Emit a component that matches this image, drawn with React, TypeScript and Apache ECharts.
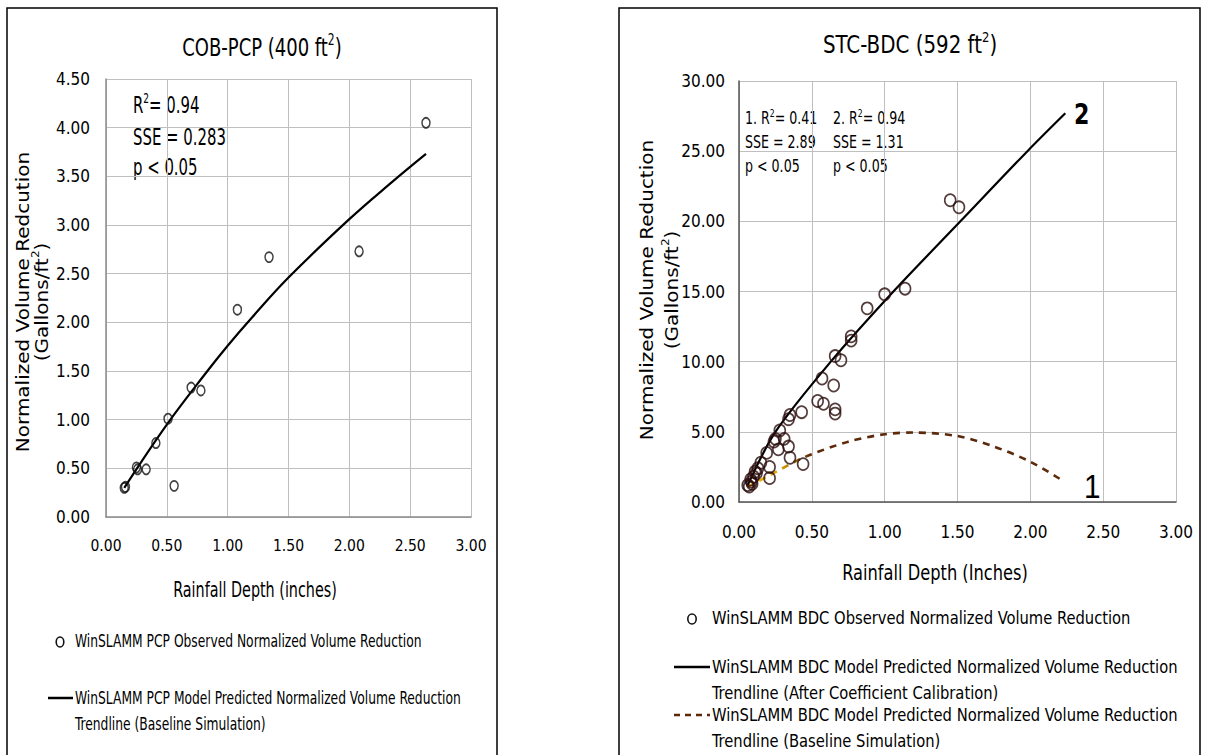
import React, { useEffect, useRef } from "react";
import * as echarts from "echarts";

// ---------- data ----------
const xTickValues = [0, 0.5, 1, 1.5, 2, 2.5, 3];

const pcpObserved: number[][] = [
  [0.15, 0.3], [0.16, 0.31], [0.25, 0.51], [0.26, 0.49], [0.33, 0.49],
  [0.41, 0.76], [0.51, 1.01], [0.56, 0.32], [0.7, 1.33], [0.78, 1.3],
  [1.08, 2.13], [1.34, 2.67], [2.08, 2.73], [2.63, 4.05],
];
const pcpTrend: number[][] = [
  [0.15, 0.3], [0.5, 0.95], [0.84, 1.51], [1.0, 1.76], [1.2, 2.05], [1.5, 2.46],
  [2.0, 3.06], [2.35, 3.44], [2.63, 3.73],
];

const bdcObserved: number[][] = [
  [1.45, 21.5], [1.51, 21.0], [1.14, 15.2], [1.0, 14.8], [0.88, 13.8],
  [0.77, 11.8], [0.77, 11.5], [0.66, 10.4], [0.7, 10.1], [0.57, 8.8],
  [0.65, 8.3], [0.54, 7.2], [0.58, 7.0], [0.66, 6.6], [0.66, 6.3],
  [0.43, 6.4], [0.35, 6.2], [0.34, 5.9], [0.28, 5.1], [0.25, 4.5],
  [0.24, 4.3], [0.31, 4.5], [0.34, 3.95], [0.27, 3.75], [0.35, 3.15],
  [0.19, 3.5], [0.44, 2.7], [0.21, 2.5], [0.15, 2.8], [0.13, 2.4],
  [0.12, 2.05], [0.21, 1.7], [0.1, 1.8], [0.085, 1.45], [0.07, 1.1],
  [0.11, 2.15], [0.08, 1.6], [0.09, 1.3], [0.06, 1.2],
];
const bdcTrendCalibrated: number[][] = [
  [0.06, 1.2], [0.25, 5.0], [0.63, 10.0], [1.06, 15.0], [1.52, 20.0],
  [1.98, 25.0], [2.24, 27.7],
];
const bdcTrendBaseline: number[][] = [
  [0.06, 1.08], [0.21, 1.9], [0.44, 3.15], [0.75, 4.3], [1.0, 4.83],
  [1.2, 4.95], [1.5, 4.7], [1.75, 3.95], [2.0, 2.87], [2.23, 1.47],
];

// ---------- styles ----------
const NARROW = "'DejaVu Sans Condensed', 'Liberation Sans Narrow', 'Arial Narrow', sans-serif";
const WIDE = "'DejaVu Sans', Verdana, sans-serif";
const BROWN = "#5c2a0a";

function supText(x: number, y: number, pre: string, post: string, size: number, extra: any = {}) {
  return {
    type: "text",
    x,
    y,
    rotation: extra.rotation || 0,
    scaleX: extra.sx || 1,
    scaleY: extra.sy || 1,
    style: {
      text: `{n|${pre}}{s|2}{n|${post}}`,
      align: extra.align || "center",
      verticalAlign: "middle",
      fill: "#000",
      rich: {
        n: { fontFamily: extra.family || NARROW, fontSize: size, lineHeight: size * 1.2, fill: "#000" },
        s: {
          fontFamily: extra.family || NARROW,
          fontSize: Math.round(size * 0.6),
          lineHeight: size * 1.2,
          verticalAlign: "top",
          padding: [0, 0, Math.round(size * 0.45), 0],
          fill: "#000",
        },
      },
    },
  };
}

function plainText(x: number, y: number, text: string, size: number, extra: any = {}) {
  return {
    type: "text",
    x,
    y,
    rotation: extra.rotation || 0,
    scaleX: extra.sx || 1,
    scaleY: extra.sy || 1,
    style: {
      text,
      fontFamily: extra.family || NARROW,
      fontSize: size,
      fontWeight: extra.weight || "normal",
      fill: "#000",
      align: extra.align || "left",
      verticalAlign: "middle",
    },
  };
}

export default function App() {
  const ref = useRef<HTMLDivElement>(null);

  useEffect(() => {
    if (!ref.current) return;
    const chart = echarts.init(ref.current, undefined, { renderer: "svg" });

    const fmt = (v: number) => v.toFixed(2);
    const split = { show: true, lineStyle: { color: "#bfbfbf", width: 1 } };

    const baselineGradient = new echarts.graphic.LinearGradient(0, 0, 1, 0, [
      { offset: 0, color: "#f2b600" },
      { offset: 0.1, color: "#e0a400" },
      { offset: 0.2, color: BROWN },
      { offset: 1, color: BROWN },
    ]);

    const option: any = {
      animation: false,
      backgroundColor: "#fff",
      grid: [
        { left: 106, top: 79, width: 365, height: 438 },
        { left: 739, top: 81, width: 437, height: 421 },
      ],
      xAxis: [0, 1].map((i) => ({
        type: "value",
        gridIndex: i,
        min: 0,
        max: 3,
        interval: 0.5,
        axisLabel: {
          fontFamily: NARROW,
          fontSize: i === 0 ? 15.5 : 17,
          color: "#000",
          margin: 21,
          formatter: fmt,
        },
        axisTick: { show: false },
        axisLine: { show: true, lineStyle: { color: i === 0 ? "#8c8c8c" : "#555", width: 1.5 } },
        splitLine: split,
      })),
      yAxis: [
        {
          type: "value",
          gridIndex: 0,
          min: 0,
          max: 4.5,
          interval: 0.5,
          axisLabel: { fontFamily: NARROW, fontSize: 17, color: "#000", margin: 16, formatter: fmt },
          axisTick: { show: false },
          axisLine: { show: true, lineStyle: { color: "#8c8c8c", width: 1.5 } },
          splitLine: split,
        },
        {
          type: "value",
          gridIndex: 1,
          min: 0,
          max: 30,
          interval: 5,
          axisLabel: { fontFamily: NARROW, fontSize: 17, color: "#000", margin: 14, formatter: fmt },
          axisTick: { show: false },
          axisLine: { show: true, lineStyle: { color: "#555", width: 1.5 } },
          splitLine: split,
        },
      ],
      series: [
        {
          name: "WinSLAMM PCP Model Predicted Normalized Volume Reduction Trendline (Baseline Simulation)",
          type: "line",
          xAxisIndex: 0,
          yAxisIndex: 0,
          data: pcpTrend,
          smooth: 0.4,
          showSymbol: false,
          lineStyle: { color: "#000", width: 2.2 },
          z: 2,
        },
        {
          name: "WinSLAMM PCP Observed Normalized Volume Reduction",
          type: "scatter",
          xAxisIndex: 0,
          yAxisIndex: 0,
          data: pcpObserved,
          symbol: "circle",
          symbolSize: [8, 10],
          itemStyle: { color: "rgba(255,255,255,0)", borderColor: "#111", borderWidth: 1.6 },
          z: 3,
        },
        {
          name: "WinSLAMM BDC Model Predicted Normalized Volume Reduction Trendline (Baseline Simulation)",
          type: "line",
          xAxisIndex: 1,
          yAxisIndex: 1,
          data: bdcTrendBaseline,
          smooth: 0.3,
          showSymbol: false,
          lineStyle: { color: baselineGradient, width: 2.6, type: [7, 6] },
          z: 2,
        },
        {
          name: "WinSLAMM BDC Model Predicted Normalized Volume Reduction Trendline (After Coefficient Calibration)",
          type: "line",
          xAxisIndex: 1,
          yAxisIndex: 1,
          data: bdcTrendCalibrated,
          smooth: 0.3,
          showSymbol: false,
          lineStyle: { color: "#000", width: 2.2 },
          z: 2,
        },
        {
          name: "WinSLAMM BDC Observed Normalized Volume Reduction",
          type: "scatter",
          xAxisIndex: 1,
          yAxisIndex: 1,
          data: bdcObserved,
          symbol: "circle",
          symbolSize: [11, 12],
          itemStyle: { color: "rgba(255,255,255,0)", borderColor: "#2a0d0d", borderWidth: 1.7 },
          z: 3,
        },
      ],
      graphic: [
        // panel borders
        { type: "rect", shape: { x: 7, y: 8, width: 490, height: 770 }, style: { fill: "none", stroke: "#000", lineWidth: 1.5 }, silent: true },
        { type: "rect", shape: { x: 619, y: 8, width: 581, height: 770 }, style: { fill: "none", stroke: "#000", lineWidth: 1.5 }, silent: true },

        // titles
        supText(262, 47, "COB-PCP (400 ft", ")", 25, { sx: 0.8 }),
        supText(910, 45, "STC-BDC (592 ft", ")", 24, { sx: 0.92 }),

        // axis titles
        plainText(255, 590, "Rainfall Depth (inches)", 21, { align: "center", sx: 0.76 }),
        plainText(935, 573, "Rainfall Depth (Inches)", 21, { align: "center", sx: 0.86 }),
        plainText(22, 302, "Normalized Volume Redcution", 20, { align: "center", family: WIDE, rotation: Math.PI / 2, sy: 0.9 }),
        supText(41, 302, "(Gallons/ft", ")", 20, { family: WIDE, rotation: Math.PI / 2, sy: 0.9 }),
        plainText(646, 290, "Normalized Volume Reduction", 20, { align: "center", family: WIDE, rotation: Math.PI / 2, sy: 0.9 }),
        supText(671, 290, "(Gallons/ft", ")", 20, { family: WIDE, rotation: Math.PI / 2, sy: 0.9 }),

        // annotations left
        supText(133, 105, "R", "= 0.94", 23, { align: "left", sx: 0.72 }),
        plainText(133, 137, "SSE = 0.283", 23, { sx: 0.72 }),
        plainText(133, 167, "p < 0.05", 23, { sx: 0.72 }),

        // annotations right
        supText(745, 118, "1. R", "= 0.41", 18, { align: "left", sx: 0.78 }),
        supText(833, 118, "2. R", "= 0.94", 18, { align: "left", sx: 0.78 }),
        plainText(745, 142, "SSE = 2.89", 18, { sx: 0.78 }),
        plainText(833, 142, "SSE = 1.31", 18, { sx: 0.78 }),
        plainText(745, 166, "p < 0.05", 18, { sx: 0.78 }),
        plainText(833, 166, "p < 0.05", 18, { sx: 0.78 }),
        plainText(1074, 114, "2", 29, { weight: "bold", sx: 0.85 }),
        plainText(1084, 487, "1", 33, { family: "'Liberation Sans', Arial, sans-serif", sx: 0.9 }),

        // legend left
        { type: "ellipse", shape: { cx: 60, cy: 642, rx: 3.8, ry: 5 }, style: { fill: "none", stroke: "#111", lineWidth: 1.6 } },
        plainText(75, 641, "WinSLAMM PCP Observed Normalized Volume Reduction", 18, { sx: 0.76 }),
        { type: "line", shape: { x1: 48, y1: 698, x2: 73, y2: 698 }, style: { stroke: "#000", lineWidth: 2.5 } },
        plainText(75, 698, "WinSLAMM PCP Model Predicted Normalized Volume Reduction", 18, { sx: 0.76 }),
        plainText(75, 724, "Trendline (Baseline Simulation)", 18, { sx: 0.76 }),

        // legend right
        { type: "ellipse", shape: { cx: 692, cy: 619, rx: 4.2, ry: 5 }, style: { fill: "none", stroke: "#111", lineWidth: 1.6 } },
        plainText(712, 618, "WinSLAMM BDC Observed Normalized Volume Reduction", 18, { sx: 0.91 }),
        { type: "line", shape: { x1: 674, y1: 667, x2: 710, y2: 667 }, style: { stroke: "#000", lineWidth: 2.5 } },
        plainText(712, 667, "WinSLAMM BDC Model Predicted Normalized Volume Reduction", 18, { sx: 0.91 }),
        plainText(712, 693, "Trendline (After Coefficient Calibration)", 18, { sx: 0.91 }),
        { type: "line", shape: { x1: 674, y1: 715, x2: 710, y2: 715 }, style: { stroke: BROWN, lineWidth: 2.5, lineDash: [6, 5] } },
        plainText(712, 715, "WinSLAMM BDC Model Predicted Normalized Volume Reduction", 18, { sx: 0.91 }),
        plainText(712, 741, "Trendline (Baseline Simulation)", 18, { sx: 0.91 }),
      ],
    };

    chart.setOption(option);
    return () => chart.dispose();
  }, []);

  return (
    <div
      ref={ref}
      style={{ position: "absolute", left: 0, top: 0, width: 1208, height: 755, background: "#fff" }}
    />
  );
}
